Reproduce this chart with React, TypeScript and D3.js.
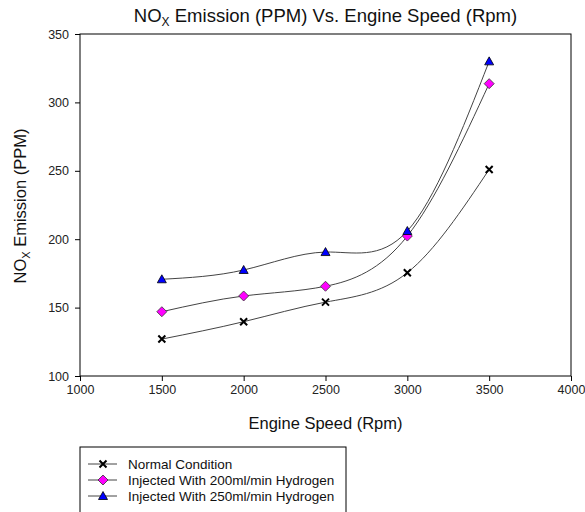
import React, {useRef, useEffect} from 'react'
import * as d3 from 'd3';

const speeds = [1500, 2000, 2500, 3000, 3500];
const normal = [127, 139.7, 154, 175.5, 251];
const h200 = [147, 158.5, 165.6, 202.3, 313.7];
const h250 = [170.7, 177.5, 190.6, 206, 330];
const seriesNames = ["Normal Condition", "Injected With 200ml/min Hydrogen", "Injected With 250ml/min Hydrogen"];
const xTicks = [1000, 1500, 2000, 2500, 3000, 3500, 4000];
const yTicks = [100, 150, 200, 250, 300, 350];

const font = "'Liberation Sans', Arial, sans-serif";

export default function App() {
  const ref = useRef<SVGSVGElement>(null);
  const layout = {width: 585, height: 512, left: 80, right: 571, top: 34, bottom: 376};

  useEffect(() => {
    const svg = d3.select(ref.current);
    svg.selectAll("*").remove();
    const g = svg.append("g");

    const xScale = d3.scaleLinear().domain([1000, 4000]).range([layout.left, layout.right]);
    const yScale = d3.scaleLinear().domain([100, 350]).range([layout.bottom, layout.top]);

    // frame
    g.append("rect")
      .attr("x", layout.left).attr("y", layout.top)
      .attr("width", layout.right - layout.left).attr("height", layout.bottom - layout.top)
      .attr("fill", "none").attr("stroke", "#000").attr("stroke-width", 1);

    const xAxis = g.append("g")
      .attr("transform", `translate(0, ${layout.bottom})`)
      .call(d3.axisBottom(xScale).tickValues(xTicks).tickSize(5).tickPadding(4).tickFormat(d3.format("d")));
    const yAxis = g.append("g")
      .attr("transform", `translate(${layout.left}, 0)`)
      .call(d3.axisLeft(yScale).tickValues(yTicks).tickSize(5).tickPadding(6));
    [xAxis, yAxis].forEach(a => {
      a.select(".domain").remove();
      a.selectAll("text").attr("font-family", font).attr("font-size", 12.5).attr("fill", "#222");
      a.selectAll("line").attr("stroke", "#000");
    });

    const series = [
      {name: seriesNames[0], values: normal, marker: "x"},
      {name: seriesNames[1], values: h200, marker: "diamond"},
      {name: seriesNames[2], values: h250, marker: "triangle"},
    ];

    const line = d3.line<number>()
      .x((d, i) => xScale(speeds[i]))
      .y(d => yScale(d))
      .curve(d3.curveNatural);

    const drawMarker = (sel: any, type: string, cx: number, cy: number) => {
      if (type === "x") {
        sel.append("path")
          .attr("d", `M${cx - 3.5},${cy - 3.5}L${cx + 3.5},${cy + 3.5}M${cx - 3.5},${cy + 3.5}L${cx + 3.5},${cy - 3.5}`)
          .attr("stroke", "#000").attr("stroke-width", 2).attr("fill", "none");
      } else if (type === "diamond") {
        sel.append("path")
          .attr("d", `M${cx},${cy - 5}L${cx + 5},${cy}L${cx},${cy + 5}L${cx - 5},${cy}Z`)
          .attr("fill", "#ff00ff").attr("stroke", "#333").attr("stroke-width", 0.8);
      } else {
        sel.append("path")
          .attr("d", `M${cx},${cy - 4.5}L${cx + 4.5},${cy + 3.5}L${cx - 4.5},${cy + 3.5}Z`)
          .attr("fill", "#0000ff").attr("stroke", "#000").attr("stroke-width", 0.8);
      }
    };

    series.forEach(s => {
      g.append("path")
        .attr("d", line(s.values))
        .attr("fill", "none").attr("stroke", "#444").attr("stroke-width", 1);
    });
    series.forEach(s => {
      const mg = g.append("g");
      s.values.forEach((v, i) => drawMarker(mg, s.marker, xScale(speeds[i]), yScale(v)));
    });

    // title
    const title = g.append("text")
      .attr("x", (layout.left + layout.right) / 2).attr("y", 22)
      .attr("text-anchor", "middle").attr("font-family", font).attr("font-size", 18.5).attr("fill", "#111");
    title.append("tspan").text("NO");
    title.append("tspan").attr("font-size", 12).attr("dy", 4).text("X");
    title.append("tspan").attr("dy", -4).text(" Emission (PPM) Vs. Engine Speed (Rpm)");

    // axis labels
    g.append("text")
      .attr("x", (layout.left + layout.right) / 2).attr("y", 429)
      .attr("text-anchor", "middle").attr("font-family", font).attr("font-size", 16.5).attr("fill", "#111")
      .text("Engine Speed (Rpm)");
    const yl = g.append("text")
      .attr("transform", `translate(26, 206) rotate(-90)`)
      .attr("text-anchor", "middle").attr("font-family", font).attr("font-size", 16.5).attr("fill", "#111");
    yl.append("tspan").text("NO");
    yl.append("tspan").attr("font-size", 11).attr("dy", 4).text("X");
    yl.append("tspan").attr("dy", -4).text(" Emission (PPM)");

    // legend
    const lg = g.append("g");
    lg.append("rect")
      .attr("x", 80).attr("y", 447).attr("width", 266).attr("height", 80)
      .attr("fill", "#fff").attr("stroke", "#000").attr("stroke-width", 1);
    series.forEach((s, i) => {
      const cy = 464 + i * 16;
      lg.append("line").attr("x1", 88).attr("x2", 117).attr("y1", cy).attr("y2", cy)
        .attr("stroke", "#444").attr("stroke-width", 1);
      drawMarker(lg, s.marker, 103, cy);
      lg.append("text")
        .attr("x", 128).attr("y", cy).attr("dy", "0.35em")
        .attr("font-family", font).attr("font-size", 13.5).attr("fill", "#111")
        .text(s.name);
    });
  }, []);

  return (
    <div>
      <svg width={layout.width} height={layout.height} ref={ref}
        style={{position: "absolute", left: 0, top: 0, background: "#fff"}} />
    </div>
  );
}
